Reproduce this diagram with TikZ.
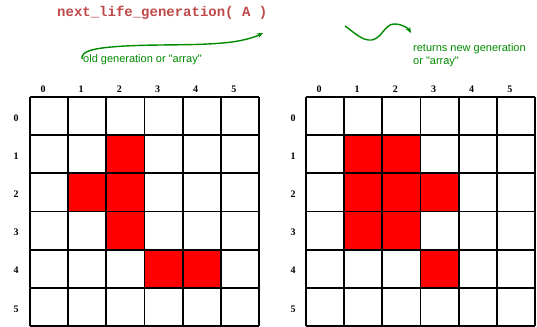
\documentclass[tikz,border=0pt]{standalone}
\usepackage{fontspec}
\setmainfont{Liberation Serif}
\newfontfamily\arialf{Liberation Sans}
\newfontfamily\courf{Liberation Mono}
\usetikzlibrary{arrows.meta}
\definecolor{titlered}{HTML}{C04848}
\definecolor{notegreen}{HTML}{008A00}
\definecolor{cellred}{HTML}{FF0000}
\tikzset{
  gridline/.style={line width=1.9pt, black},
  live/.style={fill=cellred},
  idx/.style={font=\fontsize{10}{10}\selectfont\bfseries, inner sep=0pt},
  note/.style={font=\arialf\fontsize{11}{13}\selectfont, text=notegreen, inner sep=0pt, align=left},
  curvy/.style={notegreen, line width=1.4pt, -{Stealth[length=6pt,width=5pt]}},
}
\begin{document}
\begin{tikzpicture}[x=1pt,y=-1pt]
\useasboundingbox (0,0) rectangle (537,326);
\def\cs{38.17}
% title
\node[font=\courf\bfseries\fontsize{14}{14}\selectfont, text=titlered, anchor=west, inner sep=0pt] (title) at (57,13) {next\_life\_generation( A )};
% notes
\node[note, anchor=west] (oldnote) at (83,60) {old generation or "array"};
\node[note, anchor=north west] (newnote) at (413,43) {returns new generation\\or "array"};
% curves
\coordinate (c1s) at (82,59);
\coordinate (c1e) at (263,33);
\draw[curvy] (c1s) .. controls (81,51) and (92,48) .. (125,46) .. controls (165,44) and (200,46) .. (232,42) .. controls (246,40) and (255,37) .. (c1e);
\coordinate (c2s) at (345,26);
\coordinate (c2e) at (411,33);
\draw[curvy] (c2s) .. controls (355,33) and (362,41) .. (372,40) .. controls (382,38) and (385,24) .. (394,24) .. controls (402,24) and (408,28) .. (c2e);
% left grid
\begin{scope}[shift={(30,97)}]
  \foreach \c/\r in {2/1,1/2,2/2,2/3,3/4,4/4}
    \fill[live] (\c*\cs,\r*\cs) rectangle ++(\cs,\cs);
  \foreach \i in {0,...,6} {
    \draw[gridline] (\i*\cs,0) -- (\i*\cs,6*\cs);
    \draw[gridline] (0,\i*\cs) -- (6*\cs,\i*\cs);
  }
  \foreach \i in {0,...,5} {
    \node[idx] (lcol\i) at (\i*\cs+13,-8) {\i};
    \node[idx] (lrow\i) at (-14,\i*\cs+21) {\i};
  }
\end{scope}
% right grid
\begin{scope}[shift={(306,97)}]
  \foreach \c/\r in {1/1,2/1,1/2,2/2,3/2,1/3,2/3,3/4}
    \fill[live] (\c*\cs,\r*\cs) rectangle ++(\cs,\cs);
  \foreach \i in {0,...,6} {
    \draw[gridline] (\i*\cs,0) -- (\i*\cs,6*\cs);
    \draw[gridline] (0,\i*\cs) -- (6*\cs,\i*\cs);
  }
  \foreach \i in {0,...,5} {
    \node[idx] (rcol\i) at (\i*\cs+13,-8) {\i};
    \node[idx] (rrow\i) at (-13,\i*\cs+21) {\i};
  }
\end{scope}
\end{tikzpicture}
\end{document}
